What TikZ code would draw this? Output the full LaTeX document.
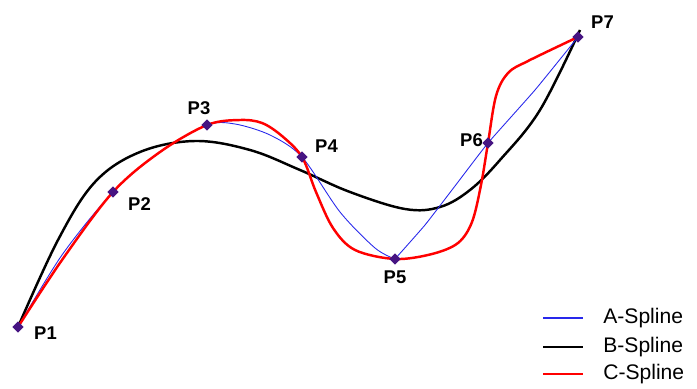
\documentclass[tikz,border=0pt]{standalone}
\usepackage{fontspec}
\setmainfont{Liberation Sans}
\usetikzlibrary{calc,positioning}
\definecolor{ptcol}{RGB}{70,20,130}
\definecolor{asplcol}{RGB}{40,40,235}
\tikzset{
  ptmark/.style={fill=ptcol,inner sep=0pt,minimum size=4.5pt,shape=rectangle,rotate=45},
  ptlabel/.style={font=\fontsize{10.5}{12}\selectfont\bfseries},
  aspl/.style={asplcol,line width=0.5pt},
  bspl/.style={black,line width=1.4pt},
  cspl/.style={red,line width=1.4pt},
  legtext/.style={font=\fontsize{12}{14}\selectfont,anchor=west,inner sep=0pt}
}
\begin{document}
\begin{tikzpicture}[x=0.02cm,y=-0.02cm]
\useasboundingbox (0,0) rectangle (697,389);
% control points
\coordinate (P1) at (18,327);
\coordinate (P2) at (113,192);
\coordinate (P3) at (207,125);
\coordinate (P4) at (302,157);
\coordinate (P5) at (395,259);
\coordinate (P6) at (488,143);
\coordinate (P7) at (578,37);
% B-spline
\draw[bspl] plot[smooth,tension=0.6] coordinates {(18,327) (58,240) (95,182) (140,152) (195,141) (250,150) (300,170) (350,192) (405,209) (440,207) (470,190) (500,160) (540,110) (580,30)};
% A-spline
\draw[aspl] plot[smooth,tension=0.5] coordinates {(P1) (62,255) (P2) (160,152) (P3) (235,124) (270,135) (P4) (340,212) (375,248) (P5)};
\draw[aspl] plot[smooth,tension=0.25] coordinates {(P5) (425,225) (455,186) (P6) (535,90) (P7)};
% C-spline
\draw[cspl] plot[smooth,tension=0.55] coordinates {(P1) (62,260) (P2) (160,152) (P3) (240,120) (262,123) (282,136) (P4) (316,192) (333,228) (355,250) (P5) (432,254) (458,243) (472,222) (481,185) (P6) (496,96) (508,73) (528,61) (P7)};
% markers and labels
\foreach \i in {1,...,7} {\node[ptmark] (m\i) at (P\i) {};}
\node[ptlabel,anchor=west] (l1) at (28,333) {P1};
\node[ptlabel,anchor=west] (l2) at (122,204) {P2};
\node[ptlabel] (l3) at (199,108) {P3};
\node[ptlabel,anchor=west] (l4) at (309,146) {P4};
\node[ptlabel] (l5) at (395,277) {P5};
\node[ptlabel,anchor=east] (l6) at (489,140) {P6};
\node[ptlabel,anchor=west] (l7) at (585,22) {P7};
% legend
\node[legtext] (ta) at (603,318) {A-Spline};
\node[legtext] (tb) at (603,347) {B-Spline};
\node[legtext] (tc) at (603,374) {C-Spline};
\coordinate (sa) at (543,318);
\coordinate (sb) at (543,347);
\coordinate (sc) at (543,374);
\draw[asplcol,line width=1.3pt] (sa) -- ($(ta.west)+(-20,0)$);
\draw[bspl] (sb) -- ($(tb.west)+(-20,0)$);
\draw[cspl] (sc) -- ($(tc.west)+(-20,0)$);
\end{tikzpicture}
\end{document}
